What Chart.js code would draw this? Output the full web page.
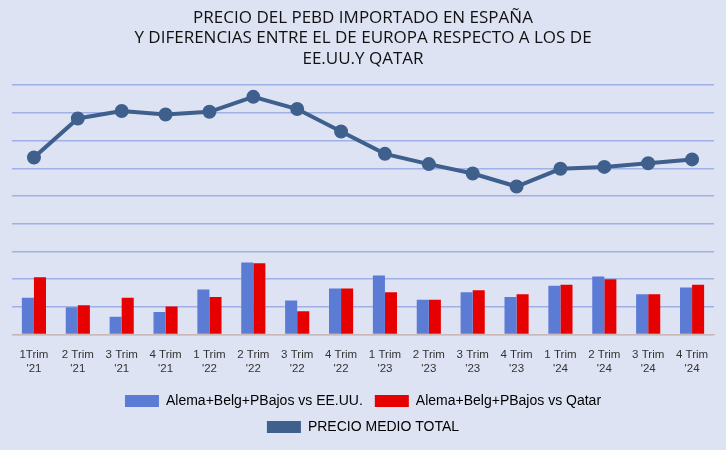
<!DOCTYPE html>
<html><head><meta charset="utf-8">
<script src="https://cdn.jsdelivr.net/npm/chart.js@4"></script>
<style>html,body{margin:0;padding:0;background:#dee3f4;}#w{width:726px;height:450px;}</style>
</head><body><div id="w"><canvas id="c" width="726" height="450"></canvas></div>
<script>
const categories=[["1Trim","'21"],["2 Trim","'21"],["3 Trim","'21"],["4 Trim","'21"],["1 Trim","'22"],["2 Trim","'22"],["3 Trim","'22"],["4 Trim","'22"],["1 Trim","'23"],["2 Trim","'23"],["3 Trim","'23"],["4 Trim","'23"],["1 Trim","'24"],["2 Trim","'24"],["3 Trim","'24"],["4 Trim","'24"]];
const usa=[1.32,0.98,0.64,0.81,1.62,2.6,1.22,1.66,2.13,1.25,1.52,1.35,1.76,2.09,1.45,1.69];
const qatar=[2.06,1.05,1.32,1.01,1.35,2.57,0.84,1.66,1.52,1.25,1.59,1.45,1.79,1.99,1.45,1.79];
const total=[6.39,7.8,8.07,7.94,8.04,8.58,8.14,7.33,6.52,6.15,5.81,5.34,5.98,6.05,6.18,6.32];
new Chart(document.getElementById('c'),{
data:{labels:categories,datasets:[
{type:'line',label:'PRECIO MEDIO TOTAL',data:total,borderColor:'#3f5f8c',backgroundColor:'#3f5f8c',borderWidth:4,pointRadius:5,pointBackgroundColor:'#3f5f8c',order:0},
{type:'bar',label:'Alema+Belg+PBajos vs EE.UU.',data:usa,backgroundColor:'#5b7bd5',categoryPercentage:0.55,barPercentage:1,order:1},
{type:'bar',label:'Alema+Belg+PBajos vs Qatar',data:qatar,backgroundColor:'#e60000',categoryPercentage:0.55,barPercentage:1,order:1}
]},
options:{responsive:false,animation:false,
layout:{padding:{left:12,right:12,top:4,bottom:6}},
plugins:{title:{display:true,text:['PRECIO DEL PEBD IMPORTADO EN ESPAÑA','Y DIFERENCIAS ENTRE EL DE EUROPA RESPECTO A LOS DE','EE.UU.Y QATAR'],color:'#111',font:{family:'Open Sans',size:17,weight:'normal'},padding:{top:4,bottom:16},lineHeight:1.55},
legend:{position:'bottom',labels:{color:'#111',font:{family:'Liberation Sans',size:14},boxWidth:34,boxHeight:12,padding:12,
generateLabels(ch){const d=ch.data.datasets;return [1,2,0].map(i=>({text:d[i].label,fillStyle:d[i].backgroundColor,strokeStyle:d[i].backgroundColor,lineWidth:0,datasetIndex:i}));}}}},
scales:{x:{grid:{display:false},border:{color:'#c8b8b8'},ticks:{color:'#333',font:{family:'Liberation Sans',size:11.5},maxRotation:0,autoSkip:false,padding:6}},
y:{min:0,max:9,ticks:{display:false,stepSize:1},border:{display:false},grid:{color:'#9fb0e4',lineWidth:1.5,drawTicks:false}}}}
});
</script></body></html>
